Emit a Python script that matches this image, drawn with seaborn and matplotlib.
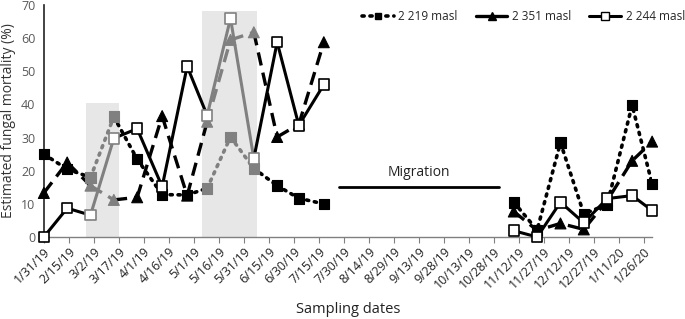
import matplotlib
matplotlib.use("Agg")
import matplotlib.pyplot as plt
import matplotlib.dates as mdates
from matplotlib.ticker import FuncFormatter
from matplotlib.lines import Line2D
import seaborn as sns
import numpy as np
import pandas as pd

# sampling dates (two campaigns, migration gap in between)
dates_a = ["2019-01-31", "2019-02-14", "2019-02-28", "2019-03-14", "2019-03-28", "2019-04-12",
           "2019-04-27", "2019-05-09", "2019-05-23", "2019-06-06", "2019-06-20", "2019-07-03",
           "2019-07-18"]
dates_b = ["2019-11-09", "2019-11-23", "2019-12-07", "2019-12-21", "2020-01-04", "2020-01-19",
           "2020-01-31"]

m2219_a = [25, 20.5, 18, 36.3, 23.5, 12.8, 12.7, 14.7, 30.2, 20.7, 15.5, 11.7, 10]
m2219_b = [10.5, 2.1, 28.5, 7, 9.8, 39.8, 16]
m2351_a = [13.3, 22.5, 15.5, 11.2, 12, 36.5, 12.5, 34.8, 59.5, 61.8, 30.2, 34, 58.8]
m2351_b = [7.7, 2, 4.1, 2.3, 11, 23, 28.8]
m2244_a = [0, 8.7, 6.6, 29.8, 32.7, 15.2, 51.5, 36.7, 66, 23.7, 58.8, 33.7, 46]
m2244_b = [1.9, 0, 10.5, 4.3, 11.6, 12.5, 8]

# points falling in the shaded periods (drawn grey)
grey_idx = [2, 3, 7, 8, 9]

shade_start = ["2019-02-25", "2019-05-06"]
shade_end = ["2019-03-17", "2019-06-08"]
shade_top = [40.4, 68.2]

migration_start = "2019-07-27"
migration_end = "2019-10-31"
migration_level = 15

series_names = ["2 219 masl", "2 351 masl", "2 244 masl"]

sns.set_style("white")
plt.rcParams["font.family"] = ["Open Sans", "DejaVu Sans"]

fig, ax = plt.subplots(figsize=(6.85, 3.19), dpi=100)
fig.subplots_adjust(left=0.064, right=0.952, top=0.984, bottom=0.257)

# shaded periods
for s, e, t in zip(shade_start, shade_end, shade_top):
    ax.fill_between(pd.to_datetime([s, e]), 0, t, color="#e7e7e7", lw=0, zorder=0)

da = pd.to_datetime(dates_a)
db = pd.to_datetime(dates_b)
grey = "#808080"

dot_ls = (0, (0.6, 1.6))
dash_ls = (0, (4, 2.2))
styles = {
    "2 219 masl": dict(ls=dot_ls, lw=2.6, cap="round", marker="s", ms=58, face=True),
    "2 351 masl": dict(ls=dash_ls, lw=2.4, cap="butt", marker="^", ms=62, face=True),
    "2 244 masl": dict(ls="-", lw=2.2, cap="butt", marker="s", ms=58, face=False),
}
vals_a = {"2 219 masl": m2219_a, "2 351 masl": m2351_a, "2 244 masl": m2244_a}
vals_b = {"2 219 masl": m2219_b, "2 351 masl": m2351_b, "2 244 masl": m2244_b}

for name in series_names:
    st = styles[name]
    ya = np.array(vals_a[name])
    # split first campaign into black / grey runs
    n = len(da)
    for i in range(n - 1):
        col = grey if (i in grey_idx and i + 1 in grey_idx) else "black"
        line = sns.lineplot(x=da[i:i + 2], y=ya[i:i + 2], ax=ax, color=col, lw=st["lw"], zorder=2)
        line.lines[-1].set_linestyle(st["ls"])
        line.lines[-1].set_dash_capstyle(st["cap"])
        line.lines[-1].set_solid_capstyle("butt")
    line = sns.lineplot(x=db, y=vals_b[name], ax=ax, color="black", lw=st["lw"], zorder=2)
    line.lines[-1].set_linestyle(st["ls"])
    line.lines[-1].set_dash_capstyle(st["cap"])

    cols = [grey if i in grey_idx else "black" for i in range(n)] + ["black"] * len(db)
    xs = list(da) + list(db)
    ys = list(ya) + list(vals_b[name])
    if st["face"]:
        sns.scatterplot(x=xs, y=ys, ax=ax, marker=st["marker"], s=st["ms"], c=cols,
                        edgecolor=cols, linewidth=0.8, zorder=3, clip_on=False)
    else:
        sns.scatterplot(x=xs, y=ys, ax=ax, marker=st["marker"], s=st["ms"], c="white",
                        edgecolor=cols, linewidth=1.2, zorder=4, clip_on=False)

# migration gap
ax.plot(pd.to_datetime([migration_start, migration_end]), [migration_level] * 2, color="black", lw=2)
mid = pd.to_datetime(migration_start) + (pd.to_datetime(migration_end) - pd.to_datetime(migration_start)) / 2
ax.text(mid, migration_level + 4.6, "Migration", ha="center", va="center", fontsize=10, color="#222222")

# axes
start = pd.Timestamp("2019-01-31")
ax.set_xlim(start, pd.Timestamp("2020-01-31"))
ax.set_ylim(0, 70)
ticks = pd.date_range(start, "2020-01-26", freq="15D")
ax.set_xticks(ticks)
ax.xaxis.set_major_formatter(FuncFormatter(
    lambda v, p: "{}/{}/{}".format(mdates.num2date(v).month, mdates.num2date(v).day, mdates.num2date(v).year % 100)))
ax.set_yticks(range(0, 71, 10))
for lab in ax.get_xticklabels():
    lab.set_rotation(45)
    lab.set_ha("right")
    lab.set_rotation_mode("anchor")
ax.tick_params(axis="x", direction="out", length=4, width=0.8, color="#808080", labelsize=9,
               labelcolor="#222222", pad=2, bottom=True)
ax.tick_params(axis="y", length=0, labelsize=9, labelcolor="#595959", pad=6)

for side in ["top", "right"]:
    ax.spines[side].set_visible(False)
ax.spines["left"].set_color("#222222")
ax.spines["left"].set_linewidth(1.2)
ax.spines["bottom"].set_color("#808080")
ax.spines["bottom"].set_linewidth(1.0)

ax.set_ylabel("Estimated fungal mortality (%)", fontsize=10, color="#333333", labelpad=4)
ax.set_xlabel("Sampling dates", fontsize=10.5, color="#222222", labelpad=8)

handles = [
    Line2D([], [], color="black", ls=dot_ls, lw=2.6, dash_capstyle="round", marker="s", ms=5),
    Line2D([], [], color="black", ls="-", lw=2.4, marker="^", ms=5.5),
    Line2D([], [], color="black", ls="-", lw=2.2, marker="s", ms=5.5, mfc="white", mew=1.0),
]
ax.legend(handles, series_names, loc="center right", bbox_to_anchor=(1.054, 0.95), ncol=3, frameon=False,
          handlelength=2.7, columnspacing=1.5, handletextpad=0.4, fontsize=8.5, borderpad=0, borderaxespad=0)

plt.savefig("out.png", dpi=100)
